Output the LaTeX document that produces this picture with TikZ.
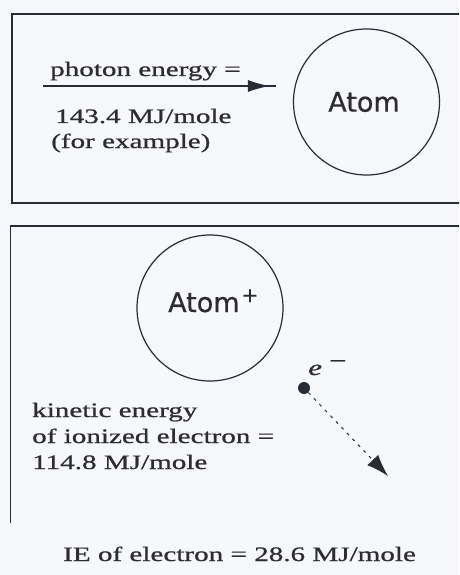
\documentclass[tikz,border=0pt]{standalone}
\usepackage{fontspec}
\usetikzlibrary{arrows.meta,decorations.markings}
\newfontfamily\wserif[FakeStretch=1.42,FakeBold=0.8]{Liberation Serif}
\newfontfamily\atomfont[FakeBold=0.6]{DejaVu Sans}
\definecolor{bgc}{RGB}{246,248,252}
\definecolor{ink}{RGB}{40,44,52}
\definecolor{txt}{RGB}{45,45,48}
\begin{document}
\begin{tikzpicture}[x=1pt,y=-1pt,
  frame/.style={draw=ink, line width=1.6pt},
  atomc/.style={circle, draw=ink, line width=1.2pt, minimum size=146pt, inner sep=0pt},
  lbl/.style={font=\wserif\fontsize{20.5}{20.5}\selectfont, text=txt, inner sep=0pt, anchor=base west},
  atomtxt/.style={font=\atomfont\fontsize{27}{27}\selectfont, text=txt, inner sep=0pt},
  photon/.style={draw=ink, line width=1.8pt, postaction={decorate},
    decoration={markings, mark=at position 0.974 with {\arrow{Latex[length=22pt,width=12pt]}}}},
  eline/.style={draw=ink, line width=1pt, dash pattern=on 3pt off 5pt, -{Latex[length=22pt,width=15pt]}}]
\fill[bgc] (0,0) rectangle (459,575);
\useasboundingbox (0,0) rectangle (459,575);
\clip (0,0) rectangle (459,575);
% frames
\draw[frame] (470,14) -- (12,14) -- (12,203) -- (470,203);
\draw[frame] (470,226) -- (10.5,226) -- (10.5,523);
% top panel
\node[atomc] (atom1) at (366.5,102) {};
\node[atomtxt] (atom1t) at (364,102) {Atom};
\node[lbl] (ph1) at (50,76) {photon energy =};
\node[lbl] (ph2) at (55,123) {143.4 MJ/mole};
\node[lbl] (ph3) at (51,148) {(for example)};
\coordinate (pstart) at (43,86);
\coordinate (pend) at (276,86);
\draw[photon] (pstart) -- (pend);
% bottom panel
\node[atomc] (atom2) at (210,308) {};
\node[atomtxt, anchor=base west] (atom2t) at (168,312) {Atom\hspace{2pt}\raisebox{10pt}{\fontsize{20}{20}\selectfont +}};
\node[lbl, font=\wserif\itshape\fontsize{22}{22}\selectfont] (elab) at (308,375) {e\hspace{5pt}\raisebox{7pt}{−}};
\node[circle, fill=ink, minimum size=12pt, inner sep=0pt] (edot) at (304,388) {};
\coordinate (etip) at (388,476);
\draw[eline] (edot) -- (etip);
\node[lbl] (ke1) at (32,417) {kinetic energy};
\node[lbl] (ke2) at (32,443) {of ionized electron =};
\node[lbl] (ke3) at (32,469) {114.8 MJ/mole};
\node[lbl] (ie) at (63,561) {IE of electron = 28.6 MJ/mole};
\end{tikzpicture}
\end{document}
